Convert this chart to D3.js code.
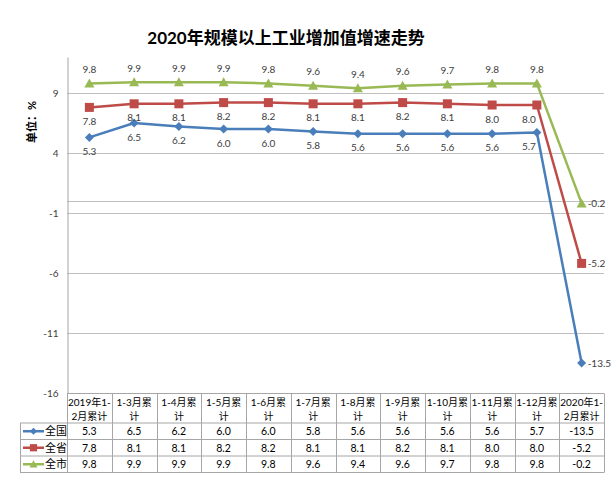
<!DOCTYPE html>
<html>
<head>
<meta charset="utf-8">
<script src="https://cdn.jsdelivr.net/npm/d3@7"></script>
<style>
  body { margin: 0; background: #fff; }
  svg { display: block; }
</style>
</head>
<body>
<div id="chart"></div>
<script>
// data
var categories = ["2019年1-2月累计", "1-3月累计", "1-4月累计", "1-5月累计", "1-6月累计", "1-7月累计",
  "1-8月累计", "1-9月累计", "1-10月累计", "1-11月累计", "1-12月累计", "2020年1-2月累计"];
var headerLines = [["2019年1-", "2月累计"], ["1-3月累", "计"], ["1-4月累", "计"], ["1-5月累", "计"],
  ["1-6月累", "计"], ["1-7月累", "计"], ["1-8月累", "计"], ["1-9月累", "计"], ["1-10月累", "计"],
  ["1-11月累", "计"], ["1-12月累", "计"], ["2020年1-", "2月累计"]];
var seriesNames = ["全国", "全省", "全市"];
var nation = [5.3, 6.5, 6.2, 6.0, 6.0, 5.8, 5.6, 5.6, 5.6, 5.6, 5.7, -13.5];
var province = [7.8, 8.1, 8.1, 8.2, 8.2, 8.1, 8.1, 8.2, 8.1, 8.0, 8.0, -5.2];
var city = [9.8, 9.9, 9.9, 9.9, 9.8, 9.6, 9.4, 9.6, 9.7, 9.8, 9.8, -0.2];
var yTicks = [-16, -11, -6, -1, 4, 9];

var W = 611, H = 479;
var plotLeft = 67, plotRight = 604, plotTop = 57, plotBottom = 393;
var rowH = [29.5, 16.5, 16.5, 16.5];
var legendLeft = 20;
var font = "Lato, 'Noto Sans CJK SC', sans-serif";
var gridColor = "#c0c0c0", borderColor = "#a6a6a6", textColor = "#404040";

// plain hyphen for negatives, like the original
var fmt = function(v) { return d3.format(".1f")(v).replace("\u2212", "-"); };

var series = [
  { name: seriesNames[0], values: nation, color: "#4a7ebb", shape: "diamond", labelDy: 14 },
  { name: seriesNames[1], values: province, color: "#be4b48", shape: "square", labelDy: 14 },
  { name: seriesNames[2], values: city, color: "#98b954", shape: "triangle", labelDy: -14 }
];

var svg = d3.select("#chart").append("svg")
  .attr("width", W)
  .attr("height", H)
  .attr("viewBox", "0 0 " + W + " " + H);

var x = d3.scaleBand().domain(categories).range([plotLeft, plotRight]);
var y = d3.scaleLinear().domain([-16, 12]).range([plotBottom, plotTop]);

// title
svg.append("text")
  .attr("x", 286)
  .attr("y", 44)
  .attr("text-anchor", "middle")
  .attr("font-family", font)
  .attr("font-size", "17px")
  .attr("font-weight", "bold")
  .attr("fill", "#000")
  .text("2020年规模以上工业增加值增速走势");

// unit label
svg.append("text")
  .attr("transform", "translate(36,122) rotate(-90)")
  .attr("text-anchor", "middle")
  .attr("font-family", font)
  .attr("font-size", "11px")
  .attr("font-weight", "bold")
  .attr("fill", "#000")
  .text("单位：%");

// gridlines
svg.append("g")
  .selectAll("line")
  .data(yTicks)
  .enter().append("line")
  .attr("x1", plotLeft)
  .attr("x2", plotRight)
  .attr("y1", function(d) { return Math.round(y(d)) + 0.5; })
  .attr("y2", function(d) { return Math.round(y(d)) + 0.5; })
  .attr("stroke", gridColor)
  .attr("stroke-width", 1);

// zero line (category axis)
svg.append("line")
  .attr("x1", plotLeft).attr("x2", plotRight)
  .attr("y1", Math.round(y(0)) + 0.5).attr("y2", Math.round(y(0)) + 0.5)
  .attr("stroke", gridColor);

// y axis
var yAxis = svg.append("g")
  .attr("transform", "translate(" + (plotLeft + 0.5) + ",0)")
  .call(d3.axisLeft(y).tickValues(yTicks).tickSize(0).tickPadding(9).tickSizeOuter(0)
    .tickFormat(function(d) { return String(d); }));
yAxis.select(".domain").attr("stroke", borderColor);
yAxis.selectAll("text")
  .attr("font-family", font)
  .attr("font-size", "10px")
  .attr("fill", textColor);

// markers
function marker(g, shape, color) {
  if (shape === "diamond") {
    g.append("path").attr("d", "M0,-4.5L4.5,0L0,4.5L-4.5,0Z").attr("fill", color);
  } else if (shape === "square") {
    g.append("rect").attr("x", -4.5).attr("y", -4.5).attr("width", 9).attr("height", 9).attr("fill", color);
  } else {
    g.append("path").attr("d", "M0,-5L5,4L-5,4Z").attr("fill", color);
  }
}

var line = d3.line()
  .x(function(d, i) { return x(categories[i]) + x.bandwidth() / 2; })
  .y(function(d) { return y(d); });

series.forEach(function(s) {
  var g = svg.append("g");
  g.append("path")
    .datum(s.values)
    .attr("fill", "none")
    .attr("stroke", s.color)
    .attr("stroke-width", 2.5)
    .attr("stroke-linejoin", "round")
    .attr("d", line);

  g.selectAll("g.pt")
    .data(s.values)
    .enter().append("g")
    .attr("class", "pt")
    .attr("transform", function(d, i) {
      return "translate(" + (x(categories[i]) + x.bandwidth() / 2) + "," + y(d) + ")";
    })
    .each(function() { marker(d3.select(this), s.shape, s.color); });

  var n = s.values.length;
  g.selectAll("text.lbl")
    .data(s.values)
    .enter().append("text")
    .attr("class", "lbl")
    .attr("x", function(d, i) {
      var cx = x(categories[i]) + x.bandwidth() / 2;
      if (i === n - 1) return cx + 6;
      if (i === n - 2 && s.shape !== "triangle") return cx - 8;
      return cx;
    })
    .attr("y", function(d, i) {
      if (i === n - 1) return y(d) + 4;
      return y(d) + s.labelDy + 3.5;
    })
    .attr("text-anchor", function(d, i) { return i === n - 1 ? "start" : "middle"; })
    .attr("font-family", font)
    .attr("font-size", "10px")
    .attr("fill", textColor)
    .text(fmt);
});

// data table
var t = svg.append("g");
var y0 = Math.round(y(-16)) + 0.5;
var rowY = [y0];
rowH.forEach(function(h) { rowY.push(rowY[rowY.length - 1] + h); });

// horizontal borders
rowY.forEach(function(ry, i) {
  t.append("line")
    .attr("x1", i === 0 ? plotLeft : legendLeft)
    .attr("x2", plotRight)
    .attr("y1", ry).attr("y2", ry)
    .attr("stroke", borderColor);
});
// vertical borders
t.append("line")
  .attr("x1", legendLeft + 0.5).attr("x2", legendLeft + 0.5)
  .attr("y1", rowY[1]).attr("y2", rowY[4])
  .attr("stroke", borderColor);
categories.forEach(function(c) {
  var bx = Math.round(x(c)) + 0.5;
  t.append("line")
    .attr("x1", bx).attr("x2", bx)
    .attr("y1", y0).attr("y2", rowY[4])
    .attr("stroke", borderColor);
});
t.append("line")
  .attr("x1", plotRight + 0.5).attr("x2", plotRight + 0.5)
  .attr("y1", y0).attr("y2", rowY[4])
  .attr("stroke", borderColor);

// header labels
categories.forEach(function(c, i) {
  var cx = x(c) + x.bandwidth() / 2;
  headerLines[i].forEach(function(txt, j) {
    t.append("text")
      .attr("x", cx)
      .attr("y", y0 + 12 + j * 14)
      .attr("text-anchor", "middle")
      .attr("font-family", font)
      .attr("font-size", "10px")
      .attr("fill", "#000")
      .text(txt);
  });
});

// value rows with legend keys
series.forEach(function(s, r) {
  var cy = (rowY[r + 1] + rowY[r + 2]) / 2;
  t.append("line")
    .attr("x1", 23).attr("x2", 44)
    .attr("y1", cy).attr("y2", cy)
    .attr("stroke", s.color)
    .attr("stroke-width", 2.5);
  marker(t.append("g").attr("transform", "translate(33.5," + cy + ") scale(0.8)"), s.shape, s.color);
  t.append("text")
    .attr("x", 45)
    .attr("y", cy + 4)
    .attr("font-family", font)
    .attr("font-size", "11px")
    .attr("fill", "#000")
    .text(s.name);

  s.values.forEach(function(v, i) {
    t.append("text")
      .attr("x", x(categories[i]) + x.bandwidth() / 2)
      .attr("y", cy + 4)
      .attr("text-anchor", "middle")
      .attr("font-family", font)
      .attr("font-size", "10.5px")
      .attr("fill", "#000")
      .text(fmt(v));
  });
});
</script>
</body>
</html>
